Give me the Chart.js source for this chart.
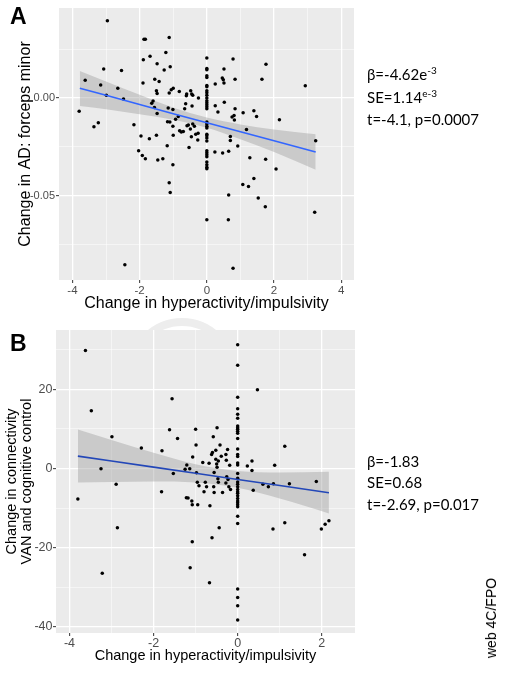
<!DOCTYPE html>
<html><head><meta charset="utf-8">
<script src="https://cdn.jsdelivr.net/npm/chart.js@4.4.1/dist/chart.umd.min.js"></script>
<style>
html,body{margin:0;padding:0;background:#fff;width:513px;height:679px;overflow:hidden;position:relative;font-family:"Liberation Sans",Arial,sans-serif;}
canvas{position:absolute;left:0;}
#cA{top:0}
#cB{top:320px}
#wm{position:absolute;left:128px;top:318px;width:92px;height:92px;border:8px solid #EDEDED;border-radius:50%;}
.lab{position:absolute;font-weight:bold;font-size:23px;line-height:23px;color:#000}
.ann{position:absolute;left:367px;font-family:Lato,"Open Sans",sans-serif;font-size:15px;color:#000;white-space:nowrap}
.ann sup{font-size:10px;position:relative;top:-6px;vertical-align:baseline;line-height:0}
#fpo{position:absolute;left:491px;top:618px;transform:translate(-50%,-50%) rotate(-90deg);font-size:14px;white-space:nowrap;color:#000}
</style>
</head><body>
<div id="wm"></div>
<canvas id="cA" width="513" height="320"></canvas>
<canvas id="cB" width="513" height="359"></canvas>
<div class="lab" style="left:10px;top:5px">A</div>
<div class="lab" style="left:10px;top:332px">B</div>
<div class="ann" style="top:63px;line-height:22.5px">β=-4.62e<sup>-3</sup><br>SE=1.14<sup>e-3</sup><br>t=-4.1, p=0.0007</div>
<div class="ann" style="top:451px;line-height:21.4px">β=-1.83<br>SE=0.68<br>t=-2.69, p=0.017</div>
<div id="fpo">web 4C/FPO</div>
<script>
// ---------- Panel A data: change in hyperactivity/impulsivity vs change in AD (forceps minor)
const aX = [
-2.96,-3.80,-3.62,-3.36,-3.23,-3.16,-3.07,-2.99,-2.65,-2.54,-2.48,-2.44,-2.17,-2.03,-1.96,-1.92,-1.90,-1.89,-1.87,-1.83,
-1.83,-1.71,-1.69,-1.55,-1.50,-1.48,-1.50,-1.48,-1.46,-1.42,-1.64,-1.60,-1.56,-1.48,-1.31,-1.27,-1.22,-1.18,-1.12,-1.09,
-1.12,-1.15,-1.06,-1.00,-1.01,-1.17,-1.10,-1.01,-1.00,-1.01,-1.12,-1.09,-0.93,-0.85,-0.82,-0.81,-0.76,-0.70,-0.66,-0.63,
-0.61,-0.60,-0.59,-0.55,-0.53,-0.48,-0.45,-0.42,-0.44,-0.49,-0.46,-0.42,-0.37,-0.33,-0.27,-0.26,-0.25,
0,0,0,0,0,0,0,0,0,0,0,0,0,0,0,0,0,0,0,0,0,0,0,0,0,0,0,0,0,0,0,0,0,
0.78,0.51,0.46,0.49,0.51,0.25,0.84,1.76,1.64,2.93,0.25,0.33,0.52,0.84,1.08,1.40,1.48,2.16,0.75,0.81,
0.82,1.18,0.70,0.70,0.92,0.24,0.47,0.65,1.28,1.75,2.06,1.07,1.24,1.40,0.65,1.53,1.74,0.64,0.78,3.24,3.21
];
const aY = [
0.0397,-0.0068,0.0091,-0.0147,-0.0126,0.0067,0.0149,0.0015,0.0050,0.0142,-0.0005,-0.0855,-0.0137,-0.0270,-0.0195,-0.0294,0.0077,0.0197,0.0302,0.0302,
-0.0311,-0.0208,0.0214,0.0097,-0.0191,0.0176,0.0038,0.0024,-0.0318,0.0085,-0.0027,-0.0015,-0.0048,-0.0079,-0.0311,0.0144,0.0234,-0.0244,0.0311,0.0161,
0.0026,-0.0051,0.0043,0.0050,-0.0058,-0.0121,-0.0123,-0.0144,-0.0190,-0.0342,-0.0434,-0.0484,-0.0108,-0.0094,0.0034,-0.0167,-0.0174,-0.0171,-0.0055,-0.0029,
0.0012,0.0021,-0.0142,-0.0138,-0.0253,0.0038,0.0021,0.0014,-0.0041,-0.0159,-0.0198,-0.0133,-0.0144,-0.0186,-0.0215,-0.0181,0.0000,
0.0205,0.0152,0.0145,0.0115,0.0106,0.0065,0.0058,0.0038,0.0027,0.0014,0.0000,-0.0014,-0.0024,-0.0034,-0.0044,-0.0055,-0.0123,-0.0133,-0.0144,-0.0154,
-0.0185,-0.0193,-0.0205,-0.0220,-0.0270,-0.0280,-0.0291,-0.0301,-0.0328,-0.0342,-0.0355,-0.0362,-0.0624,
0.0200,0.0149,0.0103,0.0094,0.0077,0.0072,0.0097,0.0174,0.0096,0.0063,-0.0039,-0.0072,-0.0022,-0.0055,-0.0075,-0.0065,-0.0094,-0.0111,-0.0097,-0.0089,
-0.0113,-0.0161,-0.0197,-0.0217,-0.0246,-0.0277,-0.0282,-0.0273,-0.0306,-0.0314,-0.0364,-0.0443,-0.0453,-0.0412,-0.0497,-0.0513,-0.0557,-0.0624,-0.0873,-0.0219,-0.0586
];
const aFitX  = [-3.78, -3, -2, -1, 0, 1, 2, 3.24];
const aFitY  = [0.0050, 0.0014, -0.0033, -0.0080, -0.0126, -0.0173, -0.0219, -0.0277];
const aFitHi = [0.0139, 0.0085, 0.0017, -0.0049, -0.0100, -0.0135, -0.0161, -0.0185];
const aFitLo = [-0.0041, -0.0057, -0.0083, -0.0111, -0.0152, -0.0211, -0.0277, -0.0368];
const aXMajor = [-4, -2, 0, 2, 4];
const aXMinor = [-3, -1, 1, 3];
const aYMajor = [-0.05, 0];
const aYMinor = [-0.075, -0.025, 0.025];

// ---------- Panel B data: change in hyperactivity/impulsivity vs change in connectivity
const bX = [
-3.62,-3.48,-3.80,-3.25,-2.99,-2.89,-2.86,-3.22,-2.29,-1.81,-1.80,-1.62,-1.56,-1.53,-1.43,-1.25,-1.21,-1.14,-1.22,-1.18,
-1.09,-1.08,-0.95,-1.07,-1.00,-0.99,-0.98,-0.96,-0.92,-1.08,-1.13,-0.83,-0.80,-0.77,-0.74,-0.68,-0.66,-0.67,-0.62,-0.60,
-0.58,-0.56,-0.57,-0.56,-0.52,-0.52,-0.50,-0.49,-0.49,-0.47,-0.46,-0.46,-0.42,-0.39,-0.36,-0.61,-0.44,-0.28,-0.27,-0.24,
-0.19,-0.26,-0.23,-0.21,-0.17,-0.28,
0.47,1.12,0.23,0.34,0.34,0.88,0.37,0.60,0.73,0.85,1.23,1.87,0.84,1.12,1.59,1.99,2.08,2.17,
0,0,0,0,0,0,0,0,0,0,0,0,0,0,0,0,0,0,0,0,0,0,0,0,0,0,0,0,0,0,0,0,0,0,0,0,0
];
const bY = [
29.8,14.6,-7.7,-0.1,8.0,-4.0,-15.0,-26.5,5.2,-5.9,4.5,9.8,17.6,-1.3,7.6,-0.2,0.9,-0.1,-7.4,-7.5,
-8.2,-9.2,-9.2,2.9,9.9,5.9,-1.1,-3.5,-4.4,-18.5,-25.1,1.5,-5.9,-3.5,-4.6,1.3,-9.4,-28.9,3.5,4.0,
8.0,-1.0,-4.6,-6.1,2.3,4.6,1.1,10.3,0.3,-2.6,-3.5,1.9,5.9,3.1,-6.1,-17.5,-15.0,3.5,2.1,4.8,
0.8,-2.1,-2.8,-4.6,-5.3,-3.7,
19.9,5.6,0.6,1.9,-0.5,0.8,-5.5,-4.0,-4.6,-3.9,-3.9,-3.3,-15.3,-13.7,-21.8,-15.3,-14.1,-13.2,
31.3,26.1,18.0,15.1,13.7,12.7,10.7,10.3,9.9,9.4,8.9,7.6,4.9,3.5,3.0,1.4,0.9,-1.3,-2.5,-3.4,
-4.0,-4.6,-5.3,-5.9,-6.3,-6.9,-7.6,-8.2,-8.7,-9.2,-9.7,-12.1,-13.9,-30.5,-32.6,-34.7,-38.3
];
const bFitX  = [-3.8, -3, -2, -1, 0, 1, 2.17];
const bFitY  = [3.12, 1.88, 0.33, -1.23, -2.78, -4.33, -6.16];
const bFitHi = [9.82, 7.17, 3.95, 1.07, -0.65, -1.04, -0.85];
const bFitLo = [-3.58, -3.41, -3.29, -3.53, -4.91, -7.62, -11.36];
const bXMajor = [-4, -2, 0, 2];
const bXMinor = [-3, -1, 1];
const bYMajor = [-40, -20, 0, 20];
const bYMinor = [-30, -10, 10, 30];

// ---------- helpers
const pts = (xs, ys) => xs.map((x, i) => ({x, y: ys[i]}));
const has = (arr, v) => arr.some(m => Math.abs(m - v) < 1e-9);

const bgPlugin = {
  id: 'panelBg',
  beforeDraw(chart) {
    const {ctx, chartArea: a} = chart;
    ctx.save();
    ctx.fillStyle = '#EBEBEB';
    ctx.fillRect(a.left, a.top, a.right - a.left, a.bottom - a.top);
    ctx.restore();
  }
};

function axis(o) {
  const all = o.major.concat(o.minor).sort((p, q) => p - q);
  return {
    type: 'linear',
    position: o.position,
    min: o.min, max: o.max,
    afterBuildTicks: s => { s.ticks = all.map(v => ({value: v})); },
    afterFit: s => { if (o.width !== undefined) s.width = o.width; if (o.height !== undefined) s.height = o.height; },
    ticks: {
      autoSkip: false, maxRotation: 0, minRotation: 0,
      padding: o.tickPad,
      color: '#4D4D4D',
      font: {family: '"Liberation Sans", Arial, sans-serif', size: o.tickSize},
      callback: v => has(o.major, v) ? o.fmt(v) : ''
    },
    grid: {
      drawTicks: true, tickLength: 3, tickWidth: 1,
      color: c => (c.tick && has(o.major, c.tick.value)) ? '#FFFFFF' : 'rgba(255,255,255,0.7)',
      lineWidth: c => (c.tick && has(o.major, c.tick.value)) ? 1.3 : 0.7,
      tickColor: c => (c.tick && has(o.major, c.tick.value)) ? '#333333' : 'rgba(0,0,0,0)'
    },
    border: {display: false},
    title: {
      display: true, text: o.title, color: '#000',
      font: {family: '"Liberation Sans", Arial, sans-serif', size: o.titleSize, lineHeight: o.titleLH || 1.2},
      padding: o.titlePad
    }
  };
}

function makeChart(id, d) {
  new Chart(document.getElementById(id), {
    type: 'scatter',
    data: {
      datasets: [
        {type: 'line', data: pts(d.fitX, d.fitY), borderColor: d.lineColor, borderWidth: 1.6, pointRadius: 0, fill: false, tension: 0},
        {type: 'scatter', data: pts(d.x, d.y), pointRadius: 1.75, pointBackgroundColor: '#000', pointBorderWidth: 0, pointBorderColor: '#000'},
        {type: 'line', data: pts(d.fitX, d.hi), borderColor: 'rgba(0,0,0,0)', borderWidth: 0, pointRadius: 0, fill: '+1', backgroundColor: 'rgba(153,153,153,0.4)', cubicInterpolationMode: 'monotone'},
        {type: 'line', data: pts(d.fitX, d.lo), borderColor: 'rgba(0,0,0,0)', borderWidth: 0, pointRadius: 0, fill: false, cubicInterpolationMode: 'monotone'}
      ]
    },
    options: {
      responsive: false, animation: false, devicePixelRatio: 1,
      layout: {padding: d.padding},
      plugins: {legend: {display: false}, tooltip: {enabled: false}},
      scales: {x: d.xAxis, y: d.yAxis}
    },
    plugins: [bgPlugin]
  });
}

makeChart('cA', {
  x: aX, y: aY, fitX: aFitX, fitY: aFitY, hi: aFitHi, lo: aFitLo, lineColor: '#3366FF',
  padding: {left: 0, top: 8, right: 159, bottom: 0},
  xAxis: axis({position: 'bottom', min: -4.40, max: 4.38, major: aXMajor, minor: aXMinor, height: 40,
    tickSize: 11.5, tickPad: 1, fmt: v => String(v), title: 'Change in hyperactivity/impulsivity',
    titleSize: 16, titlePad: {top: 0, bottom: 6.5}}),
  yAxis: axis({position: 'left', min: -0.0933, max: 0.0462, major: aYMajor, minor: aYMinor, width: 59,
    tickSize: 11, tickPad: 1, fmt: v => v.toFixed(2), title: 'Change in AD: forceps minor',
    titleSize: 16, titlePad: {top: 15.5, bottom: 0}})
});

makeChart('cB', {
  x: bX, y: bY, fitX: bFitX, fitY: bFitY, hi: bFitHi, lo: bFitLo, lineColor: '#2347B8',
  padding: {left: 0, top: 10, right: 158, bottom: 0},
  xAxis: axis({position: 'bottom', min: -4.32, max: 2.79, major: bXMajor, minor: bXMinor, height: 46,
    tickSize: 12.5, tickPad: 0.5, fmt: v => String(v), title: 'Change in hyperactivity/impulsivity',
    titleSize: 14.5, titlePad: {top: 0, bottom: 14.3}}),
  yAxis: axis({position: 'left', min: -41.6, max: 35.0, major: bYMajor, minor: bYMinor, width: 56,
    tickSize: 12.5, tickPad: 0.5, fmt: v => String(v), title: ['Change in connectivity', 'VAN and cognitive control'],
    titleSize: 14.5, titleLH: 1.05, titlePad: {top: 4.4, bottom: 0}})
});
</script>
</body></html>
